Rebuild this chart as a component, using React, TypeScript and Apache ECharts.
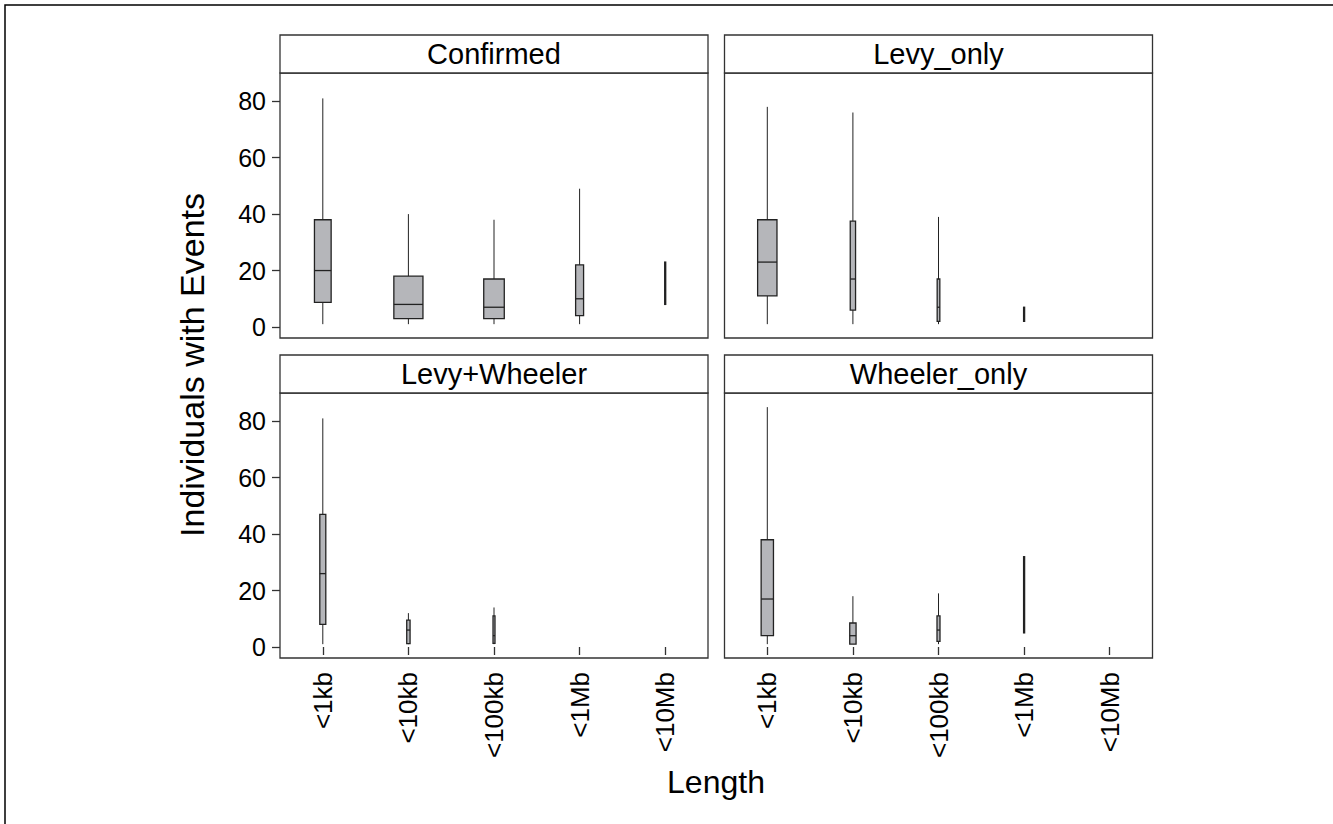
import React, { useEffect, useRef } from "react";
import * as echarts from "echarts";

const categories = ["<1kb", "<10kb", "<100kb", "<1Mb", "<10Mb"];
const yTickValues = [0, 20, 40, 60, 80];

// [min, q1, median, q3, max] per category (null = no data)
const confirmedStats = [
  [1, 8.7, 20, 38, 81],
  [1, 3, 8, 18, 40],
  [1, 3, 7, 17, 38],
  [1, 4, 10, 22, 49],
  [8, 8, 13, 23, 23],
];
const confirmedWidths = [0.195, 0.34, 0.24, 0.093, 0.012];

const levyOnlyStats = [
  [1, 11, 23, 38, 78],
  [1, 6, 17, 37.5, 76],
  [1, 2, 7, 17, 39],
  [2, 2, 4, 7, 7],
  null,
];
const levyOnlyWidths = [0.226, 0.062, 0.031, 0.012, 0];

const levyWheelerStats = [
  [1, 8, 26, 47, 81],
  [1, 1.2, 6, 9.5, 12],
  [1, 1.3, 4, 11, 14],
  null,
  null,
];
const levyWheelerWidths = [0.07, 0.039, 0.023, 0, 0];

const wheelerOnlyStats = [
  [1, 4, 17, 38, 85],
  [1, 1, 4, 8.5, 18],
  [1, 2, 6, 11, 19],
  [5, 5, 15, 32, 32],
  null,
];
const wheelerOnlyWidths = [0.144, 0.074, 0.035, 0.012, 0];

const panelTitles = ["Confirmed", "Levy_only", "Levy+Wheeler", "Wheeler_only"];
const yTitle = "Individuals with Events";
const xTitle = "Length";

const FONT = "'Liberation Sans', Arial, Helvetica, sans-serif";

export default function App() {
  const ref = useRef<HTMLDivElement>(null);

  useEffect(() => {
    if (!ref.current) return;
    const chart = echarts.init(ref.current, null, { renderer: "svg" });

    const panels = [
      { stats: confirmedStats, widths: confirmedWidths, left: 280, top: 73, showY: true, showX: false },
      { stats: levyOnlyStats, widths: levyOnlyWidths, left: 724.5, top: 73, showY: false, showX: false },
      { stats: levyWheelerStats, widths: levyWheelerWidths, left: 280, top: 393, showY: true, showX: true },
      { stats: wheelerOnlyStats, widths: wheelerOnlyWidths, left: 724.5, top: 393, showY: false, showX: true },
    ];
    const W = 428;
    const H = 265;
    const stripH = 38;

    const grids = panels.map((p) => ({
      left: p.left,
      top: p.top,
      width: W,
      height: H,
      show: true,
      borderColor: "#333",
      borderWidth: 1.3,
      backgroundColor: "#fff",
      containLabel: false,
    }));

    const xAxes = panels.map((p, i) => ({
      type: "category",
      gridIndex: i,
      data: categories,
      boundaryGap: true,
      axisLine: { show: false },
      axisTick: {
        show: p.showX,
        alignWithLabel: true,
        length: 8,
        lineStyle: { color: "#333", width: 1.3 },
      },
      axisLabel: {
        show: p.showX,
        rotate: 90,
        interval: 0,
        margin: 14,
        fontSize: 26,
        color: "#000",
        fontFamily: FONT,
      },
      splitLine: { show: false },
    }));

    const yAxes = panels.map((p, i) => ({
      type: "value",
      gridIndex: i,
      min: -3.9,
      max: 90,
      axisLine: { show: false },
      axisTick: {
        show: p.showY,
        length: 8,
        customValues: yTickValues,
        lineStyle: { color: "#333", width: 1.3 },
      },
      axisLabel: {
        show: p.showY,
        customValues: yTickValues,
        margin: 14,
        fontSize: 25,
        color: "#000",
        fontFamily: FONT,
      },
      splitLine: { show: false },
    }));

    const series = panels.map((p, i) => {
      const data: number[][] = [];
      p.stats.forEach((s, j) => {
        if (s) data.push([j, s[0], s[1], s[2], s[3], s[4], p.widths[j]]);
      });
      return {
        type: "custom",
        xAxisIndex: i,
        yAxisIndex: i,
        encode: { x: 0, y: [1, 2, 3, 4, 5] },
        data,
        renderItem: (params: any, api: any) => {
          const idx = api.value(0);
          const mn = api.value(1);
          const q1 = api.value(2);
          const md = api.value(3);
          const q3 = api.value(4);
          const mx = api.value(5);
          const w = api.value(6);
          const cx = api.coord([idx, md])[0];
          const band = api.size([1, 0])[0];
          const half = Math.max((band * w) / 2, 0.5);
          const yMin = api.coord([idx, mn])[1];
          const yQ1 = api.coord([idx, q1])[1];
          const yMd = api.coord([idx, md])[1];
          const yQ3 = api.coord([idx, q3])[1];
          const yMax = api.coord([idx, mx])[1];
          return {
            type: "group",
            children: [
              {
                type: "line",
                shape: { x1: cx, y1: yQ1, x2: cx, y2: yMin },
                style: { stroke: "#222", lineWidth: 1 },
              },
              {
                type: "line",
                shape: { x1: cx, y1: yQ3, x2: cx, y2: yMax },
                style: { stroke: "#222", lineWidth: 1 },
              },
              {
                type: "rect",
                shape: { x: cx - half, y: yQ3, width: half * 2, height: yQ1 - yQ3 },
                style: { fill: "#b5b6ba", stroke: "#222", lineWidth: 1.3 },
              },
              {
                type: "line",
                shape: { x1: cx - half, y1: yMd, x2: cx + half, y2: yMd },
                style: { stroke: "#222", lineWidth: 1.3 },
              },
            ],
          };
        },
      };
    });

    const graphics: any[] = [
      {
        type: "rect",
        shape: { x: 5, y: 5, width: 1400, height: 900 },
        style: { fill: "none", stroke: "#000", lineWidth: 1.5 },
        silent: true,
      },
    ];
    panels.forEach((p, i) => {
      graphics.push({
        type: "rect",
        shape: { x: p.left, y: p.top - stripH, width: W, height: stripH },
        style: { fill: "#fff", stroke: "#333", lineWidth: 1.3 },
        z: 10,
      });
      graphics.push({
        type: "text",
        x: p.left + W / 2,
        y: p.top - stripH / 2,
        style: {
          text: panelTitles[i],
          fontSize: 29,
          fontFamily: FONT,
          fill: "#000",
          align: "center",
          verticalAlign: "middle",
        },
        z: 11,
      });
    });
    graphics.push({
      type: "text",
      x: 192,
      y: 365,
      rotation: Math.PI / 2,
      style: {
        text: yTitle,
        fontSize: 34,
        fontFamily: FONT,
        fill: "#000",
        align: "center",
        verticalAlign: "middle",
      },
    });
    graphics.push({
      type: "text",
      x: 716,
      y: 782,
      style: {
        text: xTitle,
        fontSize: 32,
        fontFamily: FONT,
        fill: "#000",
        align: "center",
        verticalAlign: "middle",
      },
    });

    chart.setOption({
      animation: false,
      backgroundColor: "#fff",
      grid: grids,
      xAxis: xAxes,
      yAxis: yAxes,
      series,
      graphic: graphics,
    });

    return () => chart.dispose();
  }, []);

  return (
    <div
      ref={ref}
      style={{ position: "absolute", left: 0, top: 0, width: 1333, height: 824 }}
    />
  );
}
